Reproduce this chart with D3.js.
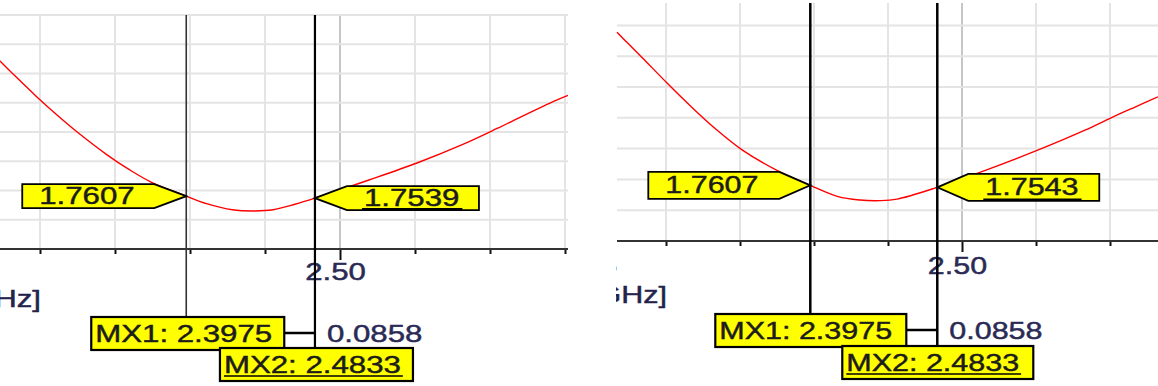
<!DOCTYPE html>
<html>
<head>
<meta charset="utf-8">
<script src="https://cdn.jsdelivr.net/npm/d3@7"></script>
<style>
  body { margin: 0; background: #fff; }
  svg { display: block; }
  text { font-family: "Liberation Sans", Arial, sans-serif; }
</style>
</head>
<body>
<svg id="chart" width="1158" height="386"></svg>
<script>
// values (frequency in GHz, trace value)
const freqLeft = [2.2733, 2.2833, 2.2967, 2.3127, 2.325, 2.3447, 2.3593, 2.374, 2.3975, 2.411, 2.4283,
  2.4433, 2.4553, 2.47, 2.4833, 2.5193, 2.5513, 2.5807, 2.6047, 2.622, 2.64, 2.652];
const valLeft = [2.223, 2.172, 2.106, 2.032, 1.979, 1.902, 1.852, 1.809, 1.7607, 1.735, 1.714,
  1.710, 1.714, 1.733, 1.7539, 1.816, 1.874, 1.935, 1.992, 2.035, 2.079, 2.105];

const freqRight = [2.2669, 2.2736, 2.2838, 2.3007, 2.3162, 2.333, 2.3514, 2.374, 2.3975, 2.4162,
  2.4311, 2.4446, 2.4561, 2.4833, 2.5162, 2.5486, 2.5831, 2.6007, 2.6169, 2.6324];
const valRight = [2.258, 2.225, 2.176, 2.093, 2.020, 1.946, 1.876, 1.812, 1.7607, 1.724,
  1.713, 1.711, 1.716, 1.7543, 1.810, 1.870, 1.940, 1.980, 2.015, 2.048];

const markerNames = ["MX1", "MX2"];
const markerFreqs = [2.3975, 2.4833];
const markerValsLeft = [1.7607, 1.7539];
const markerValsRight = [1.7607, 1.7543];

const xTickValues = [2.20, 2.25, 2.30, 2.35, 2.40, 2.45, 2.50, 2.55, 2.60, 2.65, 2.70, 2.75];
const yGridValues = [1.68, 1.78, 1.88, 1.98, 2.08, 2.18, 2.28, 2.38];
const unitLabel = "[GHz]";

const isMajor = d => Math.abs(d / 0.25 - Math.round(d / 0.25)) < 1e-6;
const fmt4 = d3.format(".4f");
const FONT = 24;

// screenshot text is wider than the font, so stretch it and thicken a bit
function stretch(sel, k) {
  sel.each(function () {
    const el = d3.select(this);
    const w = this.getComputedTextLength();
    el.attr("textLength", w * k)
      .attr("lengthAdjust", "spacingAndGlyphs")
      .attr("stroke", el.attr("fill"))
      .attr("stroke-width", 0.45);
  });
}

function drawPanel(svg, id, freqs, vals, mVals, attr) {
  svg.append("clipPath").attr("id", "clip-" + id)
    .append("rect")
    .attr("x", attr.clipX0).attr("y", 0)
    .attr("width", attr.clipX1 - attr.clipX0).attr("height", 386);

  const g = svg.append("g").attr("clip-path", `url(#clip-${id})`);

  const x = d3.scaleLinear().domain(attr.xDomain).range(attr.xRange);
  const y = d3.scaleLinear().domain(attr.yDomain).range(attr.yRange);

  // grid
  const vTicks = xTickValues.filter(d => x(d) >= attr.plotX0 - 1 && x(d) <= attr.plotX1 + 1);
  g.selectAll(".vgrid").data(vTicks).enter().append("line")
    .attr("x1", d => x(d)).attr("x2", d => x(d))
    .attr("y1", attr.plotTop).attr("y2", attr.axisY)
    .attr("stroke", d => isMajor(d) ? "#c6c6c6" : "#e4e4e4")
    .attr("stroke-width", 2);

  g.selectAll(".hgrid").data(yGridValues.filter(v => y(v) >= attr.plotTop - 1)).enter().append("line")
    .attr("x1", attr.plotX0).attr("x2", attr.plotX1)
    .attr("y1", d => y(d)).attr("y2", d => y(d))
    .attr("stroke", "#e4e4e4")
    .attr("stroke-width", 2);

  // x axis
  const axis = d3.axisBottom(x)
    .tickValues(xTickValues)
    .tickSize(5)
    .tickSizeOuter(0)
    .tickFormat(d => isMajor(d) ? d3.format(".2f")(d) : "");

  const ax = g.append("g")
    .attr("transform", `translate(0, ${attr.axisY})`)
    .attr("font-family", null)
    .call(axis);
  ax.select(".domain").remove();
  ax.selectAll(".tick line")
    .attr("stroke", "#111")
    .attr("stroke-width", 2)
    .attr("y2", d => isMajor(d) ? 11 : 5);
  ax.selectAll(".tick text")
    .attr("font-size", FONT)
    .attr("fill", "#2a2a55")
    .attr("y", attr.labelDy)
    .attr("dy", 0)
    .attr("dx", -5)
    .call(stretch, attr.stretch);

  g.append("line")
    .attr("x1", attr.plotX0).attr("x2", attr.plotX1)
    .attr("y1", attr.axisY).attr("y2", attr.axisY)
    .attr("stroke", "#333").attr("stroke-width", 2);

  const unit = g.append("text")
    .attr("x", attr.unitX).attr("y", attr.unitY)
    .attr("text-anchor", "end")
    .attr("font-size", FONT)
    .attr("fill", "#22224a")
    .text(unitLabel);
  stretch(unit, attr.stretch);

  // trace
  const pts = freqs.map((f, i) => [f, vals[i]]);
  g.append("path")
    .datum(pts)
    .attr("fill", "none")
    .attr("stroke", "#ff0000")
    .attr("stroke-width", 1.4)
    .attr("d", d3.line().x(d => x(d[0])).y(d => y(d[1])).curve(d3.curveCatmullRom.alpha(0.5)));

  // marker lines
  markerFreqs.forEach((f, i) => {
    g.append("line")
      .attr("x1", x(f)).attr("x2", x(f))
      .attr("y1", attr.plotTop).attr("y2", attr.boxTops[i])
      .attr("stroke", attr.mxColor[i])
      .attr("stroke-width", attr.mxWidth[i]);
  });

  // value flags
  markerFreqs.forEach((f, i) => {
    const tx = x(f), ty = y(mVals[i]);
    const dir = i === 0 ? -1 : 1;
    const base = tx + dir * attr.arrowLen;
    const far = base + dir * attr.flagW;
    const h = attr.flagH / 2;
    const poly = [[tx, ty], [base, ty - h], [far, ty - h], [far, ty + h], [base, ty + h]];
    g.append("polygon")
      .attr("points", poly.map(p => p.join(",")).join(" "))
      .attr("fill", "#ffff00")
      .attr("stroke", "#000")
      .attr("stroke-width", 1.8);

    const t = g.append("text")
      .attr("x", Math.min(base, far) + 17)
      .attr("y", ty + 8)
      .attr("font-size", FONT)
      .attr("fill", "#1c1c1c")
      .text(fmt4(mVals[i]));
    stretch(t, attr.stretch);

    if (i === 1) {
      const w = +t.attr("textLength");
      const x0 = Math.min(base, far) + 15;
      g.append("line")
        .attr("x1", x0).attr("x2", x0 + w + 5)
        .attr("y1", ty + h - 1).attr("y2", ty + h - 1)
        .attr("stroke", "#000").attr("stroke-width", 2.5);
    }
  });

  // marker boxes
  const tx1 = x(markerFreqs[0]), tx2 = x(markerFreqs[1]);
  g.append("line")
    .attr("x1", tx1 - 95 + attr.boxW).attr("x2", tx2)
    .attr("y1", attr.boxTops[0] + 16).attr("y2", attr.boxTops[0] + 16)
    .attr("stroke", "#000").attr("stroke-width", 2.5);

  const delta = g.append("text")
    .attr("x", tx2 + 12)
    .attr("y", attr.boxTops[0] + 25)
    .attr("font-size", FONT)
    .attr("fill", "#2a2a55")
    .text(fmt4(markerFreqs[1] - markerFreqs[0]));
  stretch(delta, attr.stretch);

  markerFreqs.forEach((f, i) => {
    const bx = x(f) - 95;
    const top = attr.boxTops[i];
    g.append("rect")
      .attr("x", bx).attr("y", top)
      .attr("width", attr.boxW).attr("height", 33)
      .attr("fill", "#ffff00")
      .attr("stroke", "#000")
      .attr("stroke-width", 2.2);
    const t = g.append("text")
      .attr("x", bx + 4)
      .attr("y", top + 25)
      .attr("font-size", FONT)
      .attr("fill", "#1c1c1c")
      .text(`${markerNames[i]}: ${fmt4(f)}`);
    stretch(t, attr.stretch);
    if (i === 1) {
      const w = +t.attr("textLength");
      g.append("line")
        .attr("x1", bx + 4).attr("x2", bx + 6 + w)
        .attr("y1", top + 28).attr("y2", top + 28)
        .attr("stroke", "#000").attr("stroke-width", 1.6);
    }
  });
}

const svg = d3.select("svg#chart");

drawPanel(svg, "left", freqLeft, valLeft, markerValsLeft, {
  clipX0: 0, clipX1: 572,
  xDomain: [2.30, 2.65], xRange: [40, 565],
  yDomain: [1.58, 2.38], yRange: [249, 15],
  plotX0: 0, plotX1: 568, plotTop: 15, axisY: 249,
  labelDy: 31, unitX: 41, unitY: 307,
  mxColor: ["#333", "#000"], mxWidth: [1.6, 2.2],
  arrowLen: 32, flagW: 132, flagH: 24,
  boxTops: [317, 348], boxW: 193,
  stretch: 1.3
});

drawPanel(svg, "right", freqRight, valRight, markerValsRight, {
  clipX0: 616, clipX1: 1158,
  xDomain: [2.30, 2.60], xRange: [666, 1110],
  yDomain: [1.58, 2.28], yRange: [241, 25.4],
  plotX0: 617, plotX1: 1158, plotTop: 3, axisY: 241,
  labelDy: 33, unitX: 667, unitY: 303,
  mxColor: ["#000", "#000"], mxWidth: [2.5, 2.5],
  arrowLen: 31, flagW: 131, flagH: 27,
  boxTops: [314, 346], boxW: 191,
  stretch: 1.27
});
</script>
</body>
</html>
